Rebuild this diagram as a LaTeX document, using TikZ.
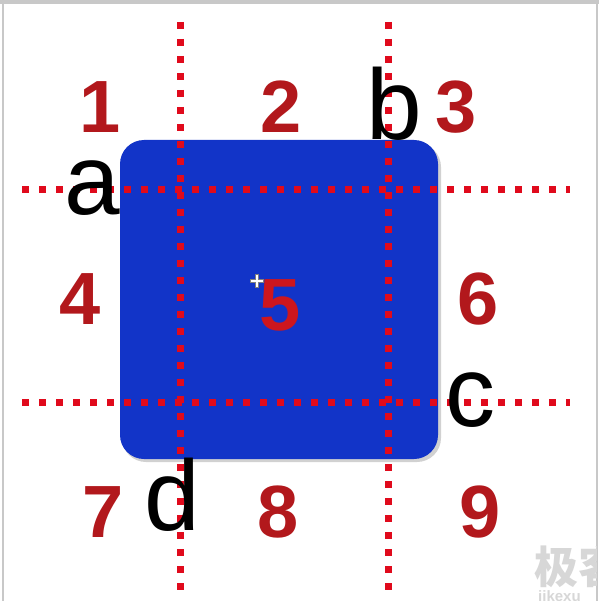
\documentclass[tikz,border=0pt]{standalone}
\usepackage{fontspec}
\setmainfont{Liberation Sans}
\newfontfamily\cjkfont{Noto Sans CJK SC}
\definecolor{boxblue}{RGB}{18,52,200}
\definecolor{dotred}{RGB}{224,10,28}
\definecolor{numred}{RGB}{178,24,28}
\definecolor{fivered}{RGB}{205,22,30}
\definecolor{edgegray}{RGB}{200,200,200}
\definecolor{wmgray}{RGB}{215,215,215}
\tikzset{
  dotline/.style={draw=dotred, line width=7pt, dash pattern=on 7pt off 10pt},
  numlabel/.style={inner sep=0pt, anchor=base, text=numred, font=\fontsize{74}{74}\selectfont\bfseries},
  letlabel/.style={inner sep=0pt, anchor=base, text=black, font=\fontsize{100}{100}\selectfont},
}
\begin{document}
\begin{tikzpicture}[x=1pt,y=-1pt]
\useasboundingbox (0,0) rectangle (599,601);
\fill[white] (0,0) rectangle (599,601);
% frame of the screenshot
\fill[edgegray] (0,0) rectangle (599,4);
\draw[edgegray, line width=1.5pt] (3,4) -- (3,601);
\draw[edgegray, line width=1.5pt] (597,4) -- (597,601);
% shadow and blue box
\fill[black, opacity=0.18, rounded corners=24pt] (122,143) rectangle (441,462);
\fill[boxblue, rounded corners=24pt] (120,140) rectangle (438,459);
% dotted lines
\draw[dotline] (180,22) -- (180,590);
\draw[dotline] (388,22) -- (388,590);
\draw[dotline] (22,190) -- (570,190);
\draw[dotline] (22,402) -- (570,402);
% numbers
\node[numlabel] (n1) at (100,133) {1};
\node[numlabel] (n2) at (281,133) {2};
\node[numlabel] (n3) at (456,133) {3};
\node[numlabel] (n4) at (80,324) {4};
\node[numlabel, text=fivered] (n5) at (280,330) {5};
\node[numlabel] (n6) at (478,324) {6};
\node[numlabel] (n7) at (103,537) {7};
\node[numlabel] (n8) at (278,537) {8};
\node[numlabel] (n9) at (480,537) {9};
% letters
\node[letlabel] (la) at (92,215) {a};
\node[letlabel] (lb) at (394,140) {b};
\node[letlabel] (lc) at (470,426) {c};
\node[letlabel] (ld) at (172,530) {d};
% mouse cursor
\draw[gray, line width=3.5pt] (250,281) -- (264,281) (257,274) -- (257,288);
\draw[white, line width=1.5pt] (250.8,281) -- (263.2,281) (257,274.8) -- (257,287.2);
% watermark
\begin{scope}
\clip (0,0) rectangle (596,601);
\node[inner sep=0pt, anchor=base west, text=wmgray, font=\cjkfont\fontsize{44}{44}\selectfont\bfseries] (wm) at (534,583) {极客};
\node[inner sep=0pt, anchor=base west, text=wmgray, font=\fontsize{15}{15}\selectfont\bfseries] (wm2) at (538,601) {jikexu};
\end{scope}
\end{tikzpicture}
\end{document}
